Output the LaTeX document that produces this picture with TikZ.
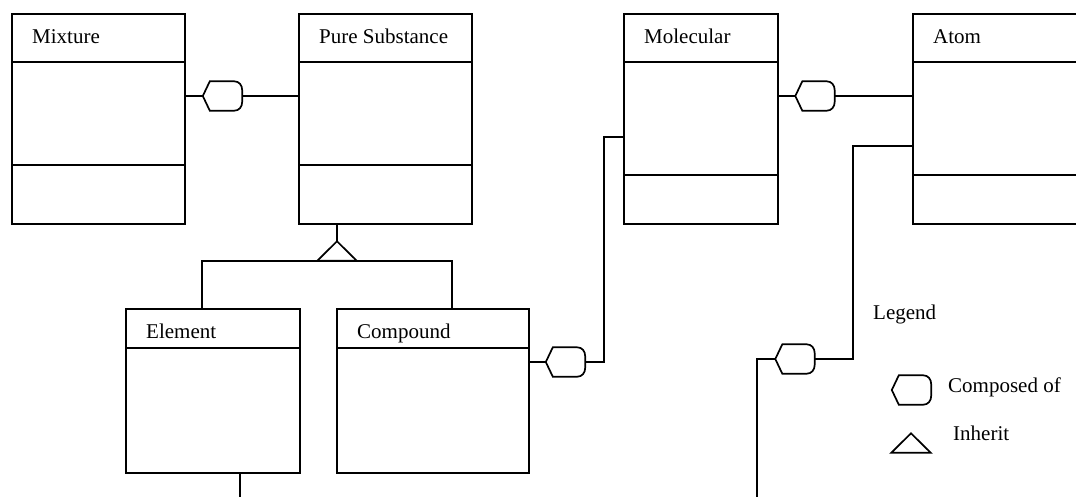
\documentclass[tikz,border=0pt]{standalone}
\usepackage{fontspec}
\setmainfont{Liberation Serif}
\usetikzlibrary{calc}
\tikzset{
  wire/.style={line width=1.7pt},
  classbox/.style={draw, line width=1.7pt, anchor=north west, inner sep=0pt},
  hexbox/.style={minimum width=39pt, minimum height=29pt, inner sep=0pt},
  tribox/.style={minimum width=39pt, minimum height=19pt, inner sep=0pt},
  title/.style={anchor=base west, inner sep=0pt, font=\fontsize{21}{25}\selectfont}
}

\begin{document}
\begin{tikzpicture}[x=1pt,y=-1pt]
  \useasboundingbox (0,0) rectangle (1076,496);
  \clip (0,0) rectangle (1076,496);

  % name, x, y, width, height, label, dividers
  \newcommand\umlclass[7]{
    \node[classbox, minimum width=#4pt, minimum height=#5pt] (#1) at (#2,#3) {};
    \node[title] (#1-t) at ($(#1.north west)+(21,30)$) {#6};
    \foreach \off in {#7}
      \draw[wire] ($(#1.north west)+(0,\off)$) -- ($(#1.north east)+(0,\off)$);
  }
  \newcommand\composedof[2]{
    \node[hexbox] (#1) at (#2) {};
    \draw[wire] (#1.west) -- ($(#1.north west)+(7,0)$) -- ($(#1.north east)+(-8,0)$)
      .. controls ($(#1.north east)+(-3,0)$) and ($(#1.north east)+(0,4)$) .. ($(#1.north east)+(0,9)$)
      -- ($(#1.south east)+(0,-9)$)
      .. controls ($(#1.south east)+(0,-4)$) and ($(#1.south east)+(-3,0)$) .. ($(#1.south east)+(-8,0)$)
      -- ($(#1.south west)+(7,0)$) -- cycle;
  }
  \newcommand\inheritmark[2]{
    \node[tribox] (#1) at (#2) {};
    \draw[wire] (#1.north) -- (#1.south east) -- (#1.south west) -- cycle;
  }

  \umlclass{mix}{11}{13}{173}{210}{Mixture}{49,152}
  \umlclass{pure}{298}{13}{173}{210}{Pure Substance}{49,152}
  \umlclass{mol}{623}{13}{154}{210}{Molecular}{49,162}
  \umlclass{atom}{912}{13}{173}{210}{Atom}{49,162}
  \umlclass{elem}{125}{308}{174}{164}{Element}{40}
  \umlclass{comp}{336}{308}{192}{164}{Compound}{40}

  % mixture -- pure substance
  \composedof{h1}{222.5,96}
  \draw[wire] (h1.west -| mix.east) -- (h1.west);
  \draw[wire] (h1.east) -- (h1.east -| pure.west);

  % inheritance
  \inheritmark{inh}{337,251}
  \draw[wire] (inh.north) -- (inh.north |- pure.south);
  \draw[wire] ($(elem.north west)+(77,0)$) |- (inh.south) -| ($(comp.north west)+(116,0)$);
  \draw[wire] ($(elem.south west)+(115,0)$) -- ++(0,30);

  % compound -- molecular
  \composedof{h2}{565.5,362}
  \draw[wire] (h2.west -| comp.east) -- (h2.west);
  \draw[wire] (h2.east) -| ($(mol.north west)+(-19,124)$) -- ($(mol.north west)+(0,124)$);

  % molecular -- atom
  \composedof{h3}{815,96}
  \draw[wire] (h3.west -| mol.east) -- (h3.west);
  \draw[wire] (h3.east) -- (h3.east -| atom.west);

  % atom -- element
  \composedof{h4}{795,359}
  \draw[wire] ($(atom.north west)+(0,133)$) -- ++(-59,0) |- (h4.east);
  \draw[wire] (h4.west) -- ++(-18,0) -- ++(0,150);

  % legend
  \node[title] (legend) at (873,319) {Legend};
  \composedof{lhex}{911.5,390}
  \node[title] (lhex-t) at (948,392) {Composed of};
  \inheritmark{ltri}{911,443}
  \node[title] (ltri-t) at (953,440) {Inherit};
\end{tikzpicture}
\end{document}
